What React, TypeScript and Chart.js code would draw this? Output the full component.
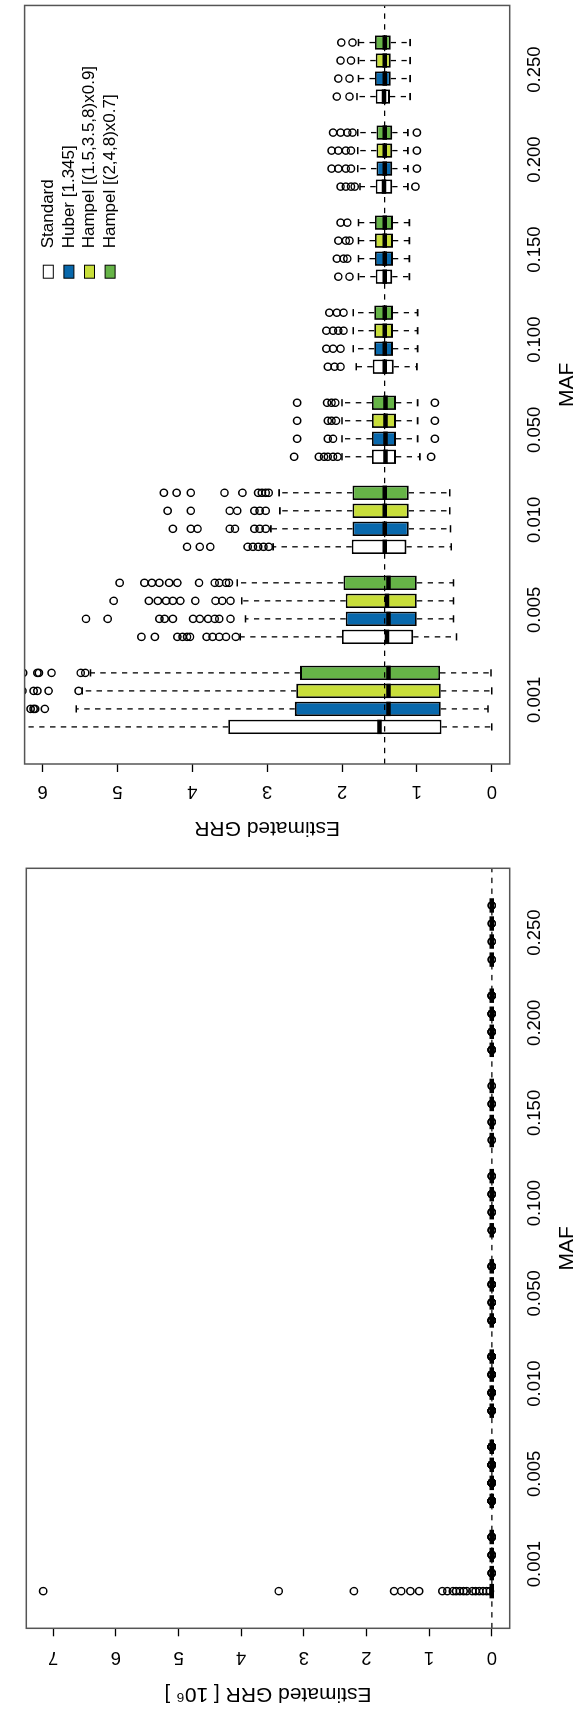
import React, { useEffect, useRef } from 'react';
import { Chart, registerables } from 'chart.js';

Chart.register(...registerables);
Chart.defaults.font.family = "'Liberation Sans', Arial, Helvetica, sans-serif";

// ---------- data ----------
const mafLabels = ['0.001', '0.005', '0.010', '0.050', '0.100', '0.150', '0.200', '0.250'];
const methodNames = ['Standard', 'Huber [1.345]', 'Hampel [(1.5,3.5,8)x0.9]', 'Hampel [(2,4,8)x0.7]'];
const methodColors = ['#FFFFFF', '#0868AC', '#C8DE3A', '#66B447'];
const topTicks = [0, 1, 2, 3, 4, 5, 6];
const bottomTicks = [0, 1, 2, 3, 4, 5, 6, 7];
const trueGRR = 1.43;

// Standard (white)
const stdQ1 = [0.67, 1.05, 1.14, 1.28, 1.31, 1.33, 1.33, 1.36];
const stdMed = [1.5, 1.4, 1.43, 1.42, 1.43, 1.43, 1.44, 1.44];
const stdQ3 = [3.52, 2.0, 1.87, 1.6, 1.59, 1.55, 1.55, 1.55];
const stdLo = [0.0, 0.47, 0.54, 0.96, 1.0, 1.1, 1.12, 1.09];
const stdHi = [8.9, 3.36, 2.92, 2.0, 1.81, 1.78, 1.76, 1.8];
const stdOut = [
  [],
  [4.68, 4.5, 4.2, 4.13, 4.07, 4.03, 3.81, 3.73, 3.64, 3.55, 3.42],
  [4.07, 3.9, 3.76, 3.26, 3.19, 3.12, 3.05, 2.98],
  [2.64, 2.31, 2.24, 2.19, 2.12, 2.06, 0.81],
  [2.19, 2.1, 2.02],
  [2.05, 1.9],
  [2.02, 1.95, 1.88, 1.83, 1.02],
  [2.07, 1.9],
];
// Standard at MAF 0.001, full range, in units of 10^6
const std001FullOutliers = [7.16, 3.4, 2.2, 1.56, 1.445, 1.3, 1.16, 0.79, 0.71, 0.62, 0.57, 0.51, 0.45, 0.4, 0.31, 0.26, 0.2, 0.14, 0.085, 0.03];

// Huber (blue)
const hubQ1 = [0.68, 1.0, 1.11, 1.28, 1.32, 1.32, 1.33, 1.35];
const hubMed = [1.38, 1.38, 1.43, 1.42, 1.43, 1.43, 1.43, 1.43];
const hubQ3 = [2.63, 1.95, 1.86, 1.6, 1.57, 1.56, 1.54, 1.56];
const hubLo = [0.05, 0.51, 0.55, 0.99, 0.99, 1.1, 1.12, 1.09];
const hubHi = [5.55, 3.29, 2.95, 2.0, 1.85, 1.78, 1.79, 1.78];
const hubOut = [
  [6.16, 6.12, 6.1, 5.97],
  [5.42, 5.13, 4.44, 4.37, 4.26, 3.99, 3.9, 3.79, 3.7, 3.64, 3.49],
  [4.26, 4.02, 3.93, 3.5, 3.43, 3.17, 3.1, 3.02],
  [2.6, 2.19, 2.12, 0.76],
  [2.21, 2.12, 2.02],
  [2.07, 1.98, 1.93],
  [2.14, 2.05, 1.95, 1.88, 1.0],
  [2.05, 1.9],
];

// Hampel (1.5,3.5,8)x0.9 (yellow-green)
const hp1Q1 = [0.68, 1.0, 1.11, 1.28, 1.32, 1.32, 1.33, 1.35];
const hp1Med = [1.38, 1.4, 1.43, 1.42, 1.43, 1.43, 1.43, 1.43];
const hp1Q3 = [2.61, 1.95, 1.86, 1.6, 1.57, 1.56, 1.54, 1.55];
const hp1Lo = [0.0, 0.51, 0.56, 0.99, 0.99, 1.1, 1.12, 1.09];
const hp1Hi = [5.47, 3.34, 2.83, 2.0, 1.85, 1.78, 1.79, 1.78];
const hp1Out = [
  [6.27, 6.12, 6.07, 5.92, 5.52],
  [5.05, 4.58, 4.46, 4.35, 4.26, 4.16, 3.96, 3.69, 3.6, 3.49],
  [4.33, 4.02, 3.5, 3.4, 3.17, 3.1, 3.02],
  [2.6, 2.19, 2.14, 2.08, 0.76],
  [2.21, 2.12, 2.05, 1.98],
  [2.05, 1.95, 1.9],
  [2.14, 2.05, 1.95, 1.88, 1.0],
  [2.02, 1.88],
];

// Hampel (2,4,8)x0.7 (green)
const hp2Q1 = [0.69, 1.0, 1.11, 1.28, 1.32, 1.32, 1.33, 1.35];
const hp2Med = [1.38, 1.38, 1.43, 1.42, 1.43, 1.43, 1.43, 1.43];
const hp2Q3 = [2.56, 1.98, 1.86, 1.6, 1.57, 1.56, 1.54, 1.56];
const hp2Lo = [0.01, 0.51, 0.56, 0.99, 0.99, 1.1, 1.12, 1.09];
const hp2Hi = [5.36, 3.4, 2.84, 2.0, 1.85, 1.78, 1.79, 1.78];
const hp2Out = [
  [6.26, 6.07, 6.05, 5.88, 5.49, 5.43],
  [4.97, 4.64, 4.54, 4.44, 4.31, 4.2, 3.91, 3.7, 3.64, 3.55, 3.51],
  [4.38, 4.21, 4.02, 3.57, 3.33, 3.12, 3.07, 3.02, 2.98],
  [2.6, 2.2, 2.14, 2.09, 0.76],
  [2.17, 2.07, 1.98],
  [2.02, 1.93],
  [2.12, 2.02, 1.93, 1.86, 1.0],
  [2.01, 1.86],
];

const methods = [
  { q1: stdQ1, med: stdMed, q3: stdQ3, lo: stdLo, hi: stdHi, out: stdOut },
  { q1: hubQ1, med: hubMed, q3: hubQ3, lo: hubLo, hi: hubHi, out: hubOut },
  { q1: hp1Q1, med: hp1Med, q3: hp1Q3, lo: hp1Lo, hi: hp1Hi, out: hp1Out },
  { q1: hp2Q1, med: hp2Med, q3: hp2Q3, lo: hp2Lo, hi: hp2Hi, out: hp2Out },
];

const slotOf = (g: number, mi: number) => g * 5 + mi + 1;

// ---------- plugin: whiskers, medians, reference line, frame, legend ----------
const rboxPlugin = {
  id: 'rbox',
  afterDatasetsDraw(chart: any, _args: any, o: any) {
    const { ctx, chartArea: a } = chart;
    const xs = chart.scales.x;
    const ys = chart.scales.y;
    const slot = Math.abs(xs.getPixelForValue(2) - xs.getPixelForValue(1));
    const bw = slot * 0.8;
    const f = o.factor;
    const seg = (x1: number, y1: number, x2: number, y2: number) => {
      ctx.beginPath();
      ctx.moveTo(x1, y1);
      ctx.lineTo(x2, y2);
      ctx.stroke();
    };
    ctx.save();
    ctx.beginPath();
    ctx.rect(a.left, a.top, a.right - a.left, a.bottom - a.top);
    ctx.clip();
    ctx.strokeStyle = '#000';
    ctx.lineCap = 'butt';
    methods.forEach((m, mi) => {
      m.q1.forEach((q1, g) => {
        const px = xs.getPixelForValue(slotOf(g, mi));
        const pQ1 = ys.getPixelForValue(q1 * f);
        const pQ3 = ys.getPixelForValue(m.q3[g] * f);
        const pLo = ys.getPixelForValue(m.lo[g] * f);
        const pHi = ys.getPixelForValue(m.hi[g] * f);
        const pMed = ys.getPixelForValue(m.med[g] * f);
        ctx.lineWidth = 1.3;
        ctx.setLineDash([5.4, 5.4]);
        seg(px, pQ3, px, pHi);
        seg(px, pQ1, px, pLo);
        ctx.setLineDash([]);
        ctx.lineWidth = 1.6;
        seg(px - bw / 4, pHi, px + bw / 4, pHi);
        seg(px - bw / 4, pLo, px + bw / 4, pLo);
        ctx.lineWidth = 4.5;
        seg(px - bw / 2, pMed, px + bw / 2, pMed);
      });
    });
    const pAb = ys.getPixelForValue(trueGRR * f);
    ctx.lineWidth = 1.3;
    ctx.setLineDash([5.4, 5.4]);
    seg(a.left, pAb, a.right, pAb);
    ctx.restore();

    ctx.save();
    ctx.strokeStyle = '#555';
    ctx.lineWidth = 1.5;
    ctx.strokeRect(a.left, a.top, a.right - a.left, a.bottom - a.top);
    if (o.legend) {
      ctx.font = "17px 'Liberation Sans', Arial, sans-serif";
      ctx.textBaseline = 'middle';
      ctx.textAlign = 'left';
      methodNames.forEach((name, i) => {
        const cy = 48.3 + i * 20.6;
        ctx.fillStyle = methodColors[i];
        ctx.fillRect(578.8, cy - 5, 13, 10);
        ctx.lineWidth = 1;
        ctx.strokeStyle = '#000';
        ctx.strokeRect(578.8, cy - 5, 13, 10);
        ctx.fillStyle = '#000';
        ctx.fillText(name, 608.7, cy);
      });
    }
    ctx.restore();
  },
};

type PanelKind = 'top' | 'bottom';

function buildConfig(panel: PanelKind): any {
  const isTop = panel === 'top';
  const f = isTop ? 1 : 1e-6;
  const datasets: any[] = [];
  methods.forEach((m, mi) => {
    datasets.push({
      type: 'bar',
      label: methodNames[mi],
      data: m.q1.map((q, g) => ({ x: slotOf(g, mi), y: [q * f, m.q3[g] * f] })),
      backgroundColor: methodColors[mi],
      borderColor: '#000',
      borderWidth: 1.8,
      borderSkipped: false,
      grouped: false,
      barPercentage: 0.8,
      categoryPercentage: 1,
      order: 2,
    });
  });
  methods.forEach((m, mi) => {
    const pts: { x: number; y: number }[] = [];
    m.out.forEach((arr, g) => arr.forEach((v) => pts.push({ x: slotOf(g, mi), y: v * f })));
    if (!isTop && mi === 0) std001FullOutliers.forEach((v) => pts.push({ x: slotOf(0, 0), y: v }));
    datasets.push({
      type: 'scatter',
      label: methodNames[mi] + ' outliers',
      data: pts,
      pointRadius: 3.6,
      pointBorderWidth: 1.45,
      pointBorderColor: '#000',
      pointBackgroundColor: 'rgba(0,0,0,0)',
      showLine: false,
      order: 1,
    });
  });

  const yTicks = isTop ? topTicks : bottomTicks;
  return {
    type: 'bar',
    data: { datasets },
    plugins: [rboxPlugin],
    options: {
      responsive: false,
      animation: false,
      devicePixelRatio: 1,
      events: [],
      layout: { padding: { top: 8.8, right: isTop ? 4 : 11.3, bottom: 0, left: 0 } },
      plugins: {
        legend: { display: false },
        tooltip: { enabled: false },
        rbox: { factor: f, legend: isTop },
      },
      scales: {
        x: {
          type: 'linear',
          min: -1.06,
          max: 41.06,
          offset: false,
          afterBuildTicks: (s: any) => {
            s.ticks = mafLabels.map((_, g) => ({ value: g * 5 + 2.5 }));
          },
          afterFit: (s: any) => {
            s.height = 67.3;
          },
          grid: { display: false, drawTicks: false },
          border: { display: false },
          ticks: {
            autoSkip: false,
            maxRotation: 0,
            minRotation: 0,
            padding: 14.6,
            color: '#000',
            font: { size: 18.5 },
            callback: (_v: any, i: number) => mafLabels[i],
          },
          title: {
            display: true,
            text: 'MAF',
            color: '#000',
            font: { size: 21 },
            padding: { top: 0, bottom: -3 },
          },
        },
        y: {
          type: 'linear',
          min: isTop ? -0.24 : -0.2857,
          max: isTop ? 6.24 : 7.4286,
          afterBuildTicks: (s: any) => {
            s.ticks = yTicks.map((v) => ({ value: v }));
          },
          afterFit: (s: any) => {
            s.width = isTop ? 93 : 86.7;
          },
          grid: {
            display: true,
            drawOnChartArea: false,
            drawTicks: true,
            tickLength: 8,
            tickColor: '#000',
            tickWidth: 1.3,
          },
          border: { display: false },
          ticks: {
            minRotation: 90,
            maxRotation: 90,
            crossAlign: 'center',
            padding: isTop ? 13.5 : 15.2,
            color: '#000',
            font: { size: 18.5 },
            callback: (v: any) => String(v),
          },
          title: {
            display: true,
            text: isTop ? 'Estimated GRR' : 'Estimated GRR [ 10\u2076 ]',
            color: '#000',
            font: { size: 21 },
            padding: { top: isTop ? 17 : 9, bottom: 0 },
          },
        },
      },
    },
  };
}

function Panel({ panel, top, width }: { panel: PanelKind; top: number; width: number }) {
  const ref = useRef<HTMLCanvasElement>(null);
  useEffect(() => {
    const chart = new Chart(ref.current as HTMLCanvasElement, buildConfig(panel));
    return () => chart.destroy();
  }, [panel]);
  return (
    <canvas
      ref={ref}
      width={width}
      height={577}
      style={{
        position: 'absolute',
        left: 0,
        top,
        width,
        height: 577,
        transformOrigin: '0 0',
        transform: 'rotate(-90deg)',
      }}
    />
  );
}

export default function App() {
  return (
    <div
      style={{
        position: 'absolute',
        left: 0,
        top: 0,
        width: 577,
        height: 1715,
        overflow: 'hidden',
        background: '#fff',
      }}
    >
      <Panel panel="top" top={857} width={857} />
      <Panel panel="bottom" top={1715} width={858} />
    </div>
  );
}
